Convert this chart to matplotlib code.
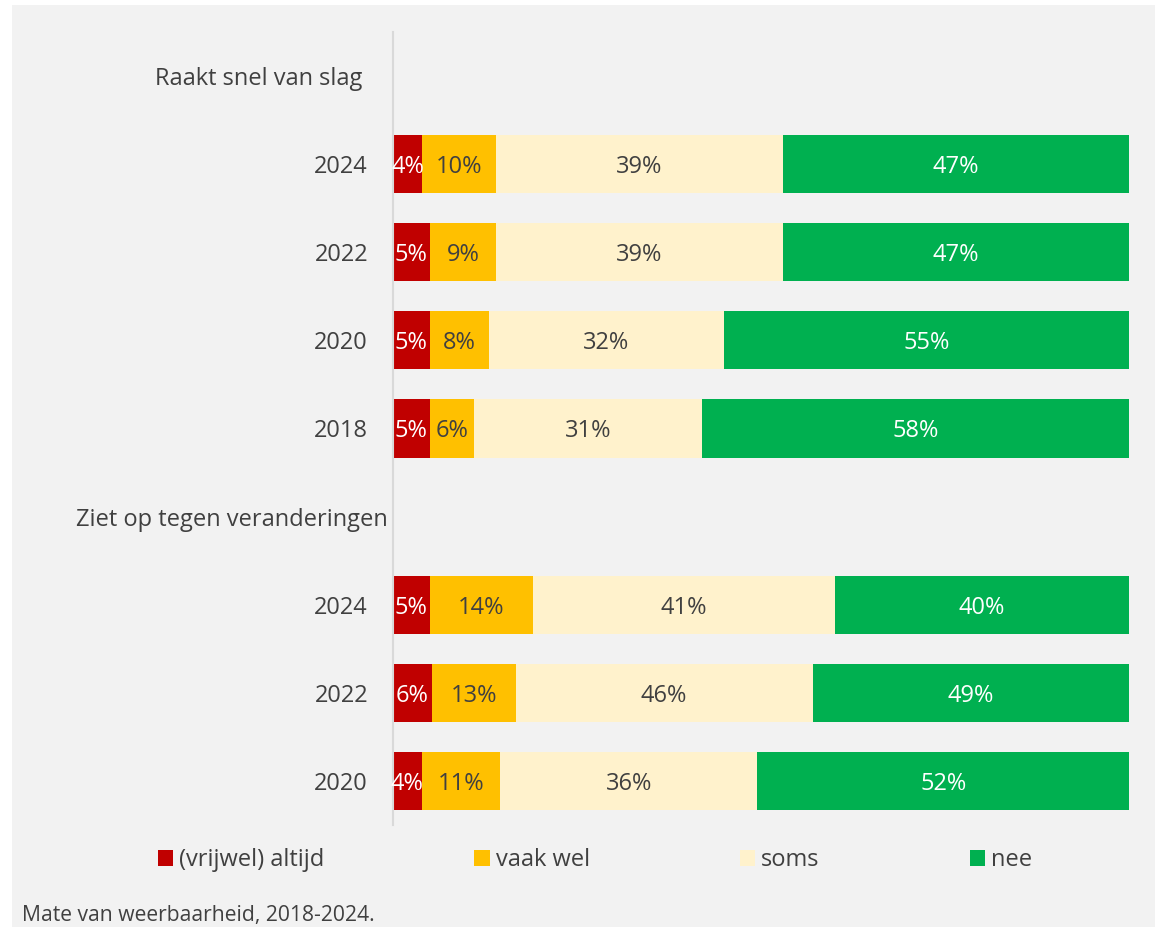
import matplotlib.pyplot as plt
import matplotlib.patches as patches
import numpy as np

# rows from top to bottom; header rows carry no bar
row_labels = ['Raakt snel van slag', '2024', '2022', '2020', '2018',
              'Ziet op tegen veranderingen', '2024', '2022', '2020']
is_header = [True, False, False, False, False, True, False, False, False]

altijd = [None, 4, 5, 5, 5, None, 5, 6, 4]
vaak_wel = [None, 10, 9, 8, 6, None, 14, 13, 11]
soms = [None, 39, 39, 32, 31, None, 41, 46, 36]
nee = [None, 47, 47, 55, 58, None, 40, 49, 52]

series_names = ['(vrijwel) altijd', 'vaak wel', 'soms', 'nee']
series_colors = ['#C00000', '#FFC000', '#FFF2CC', '#00B050']
label_colors = ['white', '#404040', '#404040', 'white']
footer = 'Mate van weerbaarheid, 2018-2024.'

TEXT_COLOR = '#404040'
BG_COLOR = '#F2F2F2'
FONT = 'Open Sans'
FS = 17

plt.rcParams['font.family'] = [FONT, 'DejaVu Sans']

fig = plt.figure(figsize=(11.55, 9.27), dpi=100)
fig.patch.set_facecolor('white')
fig.add_artist(patches.Rectangle((12 / 1155, 0), 1 - 12 / 1155, 1 - 5 / 927,
                                 transform=fig.transFigure, facecolor=BG_COLOR,
                                 edgecolor='none', zorder=-10))

ax = fig.add_axes([393 / 1155, 1 - 825 / 927, 736 / 1155, 793 / 927])
ax.set_facecolor('none')

n = len(row_labels)
y = np.arange(n)
series = [altijd, vaak_wel, soms, nee]

for i in range(n):
    if is_header[i]:
        continue
    vals = [s[i] for s in series]
    total = sum(vals)
    left = 0.0
    for k, v in enumerate(vals):
        w = v / total
        ax.barh(y[i], w, left=left, height=0.66, color=series_colors[k], linewidth=0)
        ax.text(left + w / 2, y[i], f'{v}%', ha='center', va='center_baseline',
                color=label_colors[k], fontsize=FS)
        left += w

ax.set_xlim(0, 1)
ax.set_ylim(n - 0.5, -0.5)

ax.set_yticks([y[i] for i in range(n) if not is_header[i]])
ax.set_yticklabels([row_labels[i] for i in range(n) if not is_header[i]],
                   fontsize=FS, color=TEXT_COLOR)
ax.tick_params(axis='y', length=0, pad=18)
ax.set_xticks([])

header_x = {0: -31 / 736, 5: -5 / 736}
for i, hx in header_x.items():
    ax.text(hx, y[i], row_labels[i], ha='right', va='center_baseline', fontsize=FS,
            color=TEXT_COLOR, transform=ax.get_yaxis_transform())

for side in ['top', 'right', 'bottom']:
    ax.spines[side].set_visible(False)
ax.spines['left'].set_color('#D9D9D9')
ax.spines['left'].set_linewidth(1.5)

handles = [patches.Patch(facecolor=c, edgecolor='none') for c in series_colors]
leg = fig.legend(handles, series_names, loc='center', ncol=4,
                 bbox_to_anchor=(595 / 1155, 1 - 860 / 927), frameon=False,
                 fontsize=FS, handlelength=0.66, handleheight=0.66,
                 handletextpad=0.25, columnspacing=6.35)
for t in leg.get_texts():
    t.set_color(TEXT_COLOR)

fig.text(22 / 1155, 1 - 915 / 927, footer, ha='left', va='center',
         fontsize=15.2, color=TEXT_COLOR)

fig.savefig('out.png', dpi=100, facecolor=fig.get_facecolor())
